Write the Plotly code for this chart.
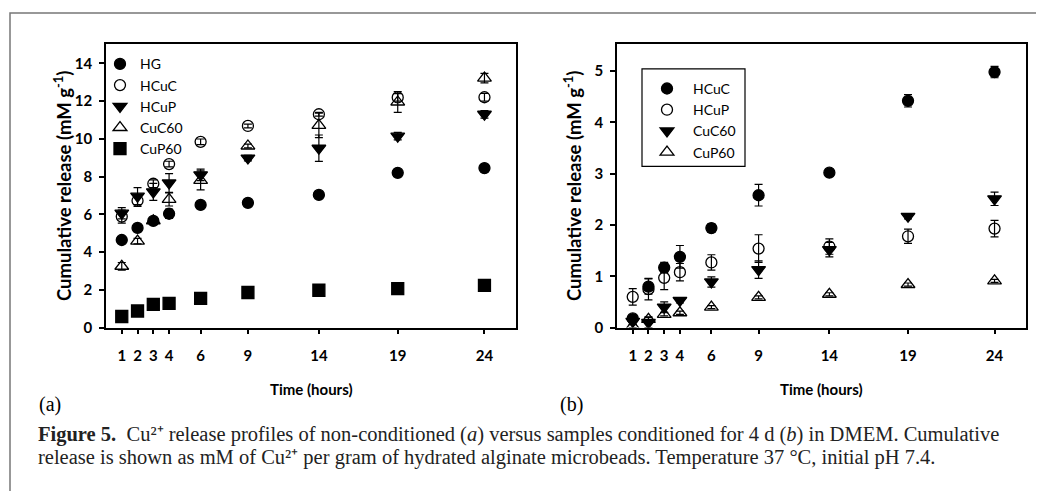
import plotly.graph_objects as go

# ---------------- data ----------------
time_labels = ['1', '2', '3', '4', '6', '9', '14', '19', '24']
time_pos = [1, 2, 3, 4, 6, 9, 13.5, 18.5, 24]

# Panel (a): non-conditioned
a_names = ['HG', 'HCuC', 'HCuP', 'CuC60', 'CuP60']
a_HG = [4.64, 5.28, 5.65, 6.03, 6.50, 6.61, 7.03, 8.20, 8.45]
a_HG_err = [0.08, 0.10, 0.08, 0.25, 0.10, 0.08, 0.10, 0.10, 0.10]
a_HCuC = [5.88, 6.72, 7.62, 8.66, 9.84, 10.68, 11.30, 12.19, 12.20]
a_HCuC_err = [0.35, 0.30, 0.20, 0.15, 0.15, 0.10, 0.10, 0.20, 0.20]
a_HCuP = [6.06, 6.96, 7.19, 7.66, 8.09, 8.98, 9.50, 10.14, 11.30]
a_HCuP_err = [0.30, 0.45, 0.45, 0.50, 0.30, 0.15, 0.70, 0.20, 0.20]
a_CuC60 = [3.25, 4.58, 5.66, 6.79, 7.80, 9.62, 10.71, 11.95, 13.21]
a_CuC60_err = [0.20, 0.15, 0.10, 0.35, 0.50, 0.10, 0.65, 0.55, 0.25]
a_CuP60 = [0.59, 0.88, 1.23, 1.28, 1.55, 1.86, 1.98, 2.07, 2.24]
a_CuP60_err = [0.05, 0.05, 0.05, 0.05, 0.05, 0.05, 0.05, 0.05, 0.05]

# Panel (b): conditioned for 4 d
b_names = ['HCuC', 'HCuP', 'CuC60', 'CuP60']
b_HCuC = [0.18, 0.80, 1.17, 1.38, 1.94, 2.58, 3.02, 4.42, 4.98]
b_HCuC_err = [0.05, 0.15, 0.10, 0.22, 0.08, 0.21, 0.06, 0.12, 0.11]
b_HCuP = [0.60, 0.75, 0.97, 1.08, 1.27, 1.54, 1.58, 1.78, 1.93]
b_HCuP_err = [0.16, 0.21, 0.23, 0.17, 0.15, 0.27, 0.15, 0.14, 0.16]
b_CuC60 = [0.12, 0.10, 0.40, 0.53, 0.89, 1.13, 1.52, 2.17, 2.51]
b_CuC60_err = [0.05, 0.10, 0.10, 0.05, 0.10, 0.17, 0.14, 0.05, 0.13]
b_CuP60 = [0.03, 0.16, 0.26, 0.29, 0.40, 0.59, 0.65, 0.84, 0.91]
b_CuP60_err = [0.03, 0.05, 0.03, 0.03, 0.03, 0.03, 0.03, 0.03, 0.03]

y_ticks_a = [0, 2, 4, 6, 8, 10, 12, 14]
y_ticks_b = [0, 1, 2, 3, 4, 5]

# ---------------- styles ----------------
sym_a = ['circle', 'circle-open', 'triangle-down', 'triangle-up-open', 'square']
size_a = [11, 11, 12, 12, 12]
sym_b = ['circle', 'circle-open', 'triangle-down', 'triangle-up-open']
size_b = [11, 11, 12, 12]

SANS = 'Lato'
SERIF = 'Liberation Serif'

fig = go.Figure()

a_vals = [a_HG, a_HCuC, a_HCuP, a_CuC60, a_CuP60]
a_errs = [a_HG_err, a_HCuC_err, a_HCuP_err, a_CuC60_err, a_CuP60_err]
for name, vals, errs, sym, sz in zip(a_names, a_vals, a_errs, sym_a, size_a):
    fig.add_trace(go.Scatter(
        x=time_pos, y=vals, name=name, mode='markers',
        marker=dict(symbol=sym, size=sz, color='black', line=dict(color='black', width=1.3)),
        error_y=dict(type='data', array=errs, color='black', thickness=1.2, width=4),
        xaxis='x', yaxis='y', legend='legend'))

b_vals = [b_HCuC, b_HCuP, b_CuC60, b_CuP60]
b_errs = [b_HCuC_err, b_HCuP_err, b_CuC60_err, b_CuP60_err]
for name, vals, errs, sym, sz in zip(b_names, b_vals, b_errs, sym_b, size_b):
    fig.add_trace(go.Scatter(
        x=time_pos, y=vals, name=name, mode='markers',
        marker=dict(symbol=sym, size=sz, color='black', line=dict(color='black', width=1.3)),
        error_y=dict(type='data', array=errs, color='black', thickness=1.2, width=4),
        xaxis='x2', yaxis='y2', legend='legend2'))

# page body has an 8px margin: the figure starts at (8, 8) in the window
OFF = 8
W, H = 1044 - OFF, 491 - OFF
def px(x):
    return (x - OFF) / W
def py(y):
    return 1 - (y - OFF) / H

axis_common = dict(
    showline=True, linecolor='black', linewidth=1.5, mirror=True,
    ticks='outside', ticklen=5, tickwidth=1.5, tickcolor='black',
    showgrid=False, zeroline=False,
    tickfont=dict(family=SANS, size=15, color='black', weight='bold'),
)

fig.update_layout(
    width=W, height=H,
    margin=dict(l=0, r=0, t=0, b=0),
    paper_bgcolor='white', plot_bgcolor='white',
    xaxis=dict(domain=[px(106), px(516)], range=[0, 26], tickvals=time_pos, ticktext=time_labels,
               anchor='y', ticklabelstandoff=9, **axis_common),
    yaxis=dict(domain=[py(333), py(45)], range=[0, 15], tickvals=y_ticks_a, anchor='x',
               ticklabelstandoff=4, **axis_common),
    xaxis2=dict(domain=[px(617), px(1026)], range=[0, 26], tickvals=time_pos, ticktext=time_labels,
                anchor='y2', ticklabelstandoff=9, **axis_common),
    yaxis2=dict(domain=[py(333), py(45)], range=[0, 5.52], tickvals=y_ticks_b, anchor='x2',
                ticklabelstandoff=4, **axis_common),
    legend=dict(x=px(100), y=py(49), xanchor='left', yanchor='top',
                bgcolor='rgba(0,0,0,0)', borderwidth=0,
                font=dict(family=SANS, size=14, color='black'),
                tracegroupgap=0, itemwidth=30),
    legend2=dict(x=px(641), y=py(74), xanchor='left', yanchor='top',
                 bgcolor='rgba(0,0,0,0)', borderwidth=0,
                 font=dict(family=SANS, size=14, color='black'),
                 tracegroupgap=0, itemwidth=42),
    showlegend=True,
)

# legend box of panel (b)
fig.add_shape(type='rect', xref='paper', yref='paper', x0=px(642), x1=px(745), y0=py(169), y1=py(70),
              line=dict(color='black', width=1.2), fillcolor='white', layer='below')

# axis titles
xt_font = dict(family=SANS, size=15, color='black', weight='bold')
yt_font = dict(family=SANS, size=18.5, color='black', weight='bold')
for xc in (311, 821):
    fig.add_annotation(text='Time (hours)', xref='paper', yref='paper', x=px(xc), y=py(395),
                       xanchor='center', yanchor='middle', showarrow=False, font=xt_font)
for xc in (62, 572):
    fig.add_annotation(text='Cumulative release (mM g<sup>-1</sup>)', xref='paper', yref='paper',
                       x=px(xc), y=py(189), xanchor='center', yanchor='middle',
                       textangle=-90, showarrow=False, font=yt_font)

# panel labels
for xl, lab in ((37, '(a)'), (558, '(b)')):
    fig.add_annotation(text=lab, xref='paper', yref='paper', x=px(xl), y=py(411),
                       xanchor='left', yanchor='middle', showarrow=False,
                       font=dict(family=SERIF, size=20, color='black'))

# caption
cap1 = ('<b>Figure 5.</b>  Cu²⁺ release profiles of non-conditioned (<i>a</i>) versus samples '
        'conditioned for 4 d (<i>b</i>) in DMEM. Cumulative')
cap2 = ('release is shown as mM of Cu²⁺ per gram of hydrated alginate microbeads. '
        'Temperature 37 °C, initial pH 7.4.')
cap_font = dict(family=SERIF, size=20.5, color='#222')
fig.add_annotation(text=cap1, xref='paper', yref='paper', x=px(36), y=py(442),
                   xanchor='left', yanchor='middle', showarrow=False, font=cap_font)
fig.add_annotation(text=cap2, xref='paper', yref='paper', x=px(36), y=py(465),
                   xanchor='left', yanchor='middle', showarrow=False, font=cap_font)

# outer frame
fig.add_shape(type='rect', xref='paper', yref='paper', x0=px(10), y0=-0.05, x1=1.05, y1=py(13),
              line=dict(color='#777', width=1.5), fillcolor='rgba(0,0,0,0)', layer='below')

fig.write_html('out.html')
